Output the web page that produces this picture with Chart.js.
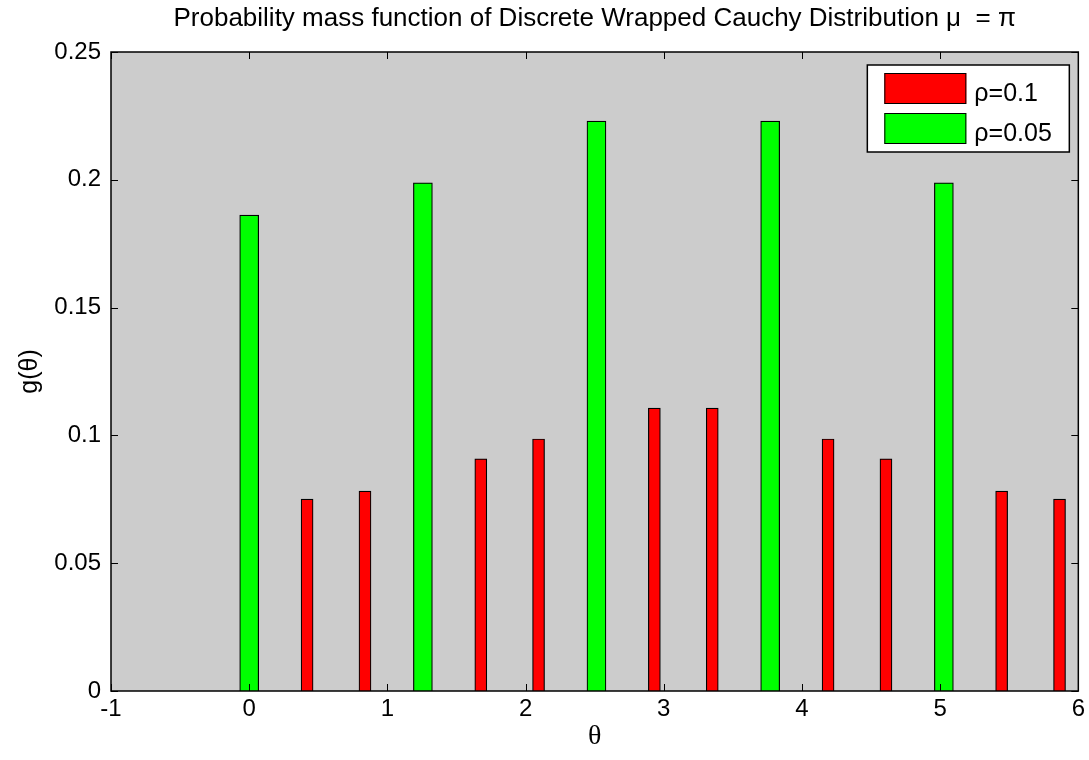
<!DOCTYPE html>
<html>
<head>
<meta charset="utf-8">
<script src="https://cdn.jsdelivr.net/npm/chart.js@4.4.1/dist/chart.umd.min.js"></script>
<style>
  body { margin: 0; background: #fff; }
  #wrap { width: 1089px; height: 760px; }
</style>
</head>
<body>
<div id="wrap"><canvas id="chart1" width="1089" height="760"></canvas></div>
<script>
// theta positions and pmf values
const thetaRed = [0.419, 0.838, 1.676, 2.094, 2.932, 3.351, 4.189, 4.608, 5.445, 5.864];
const pmfRed = [0.0751, 0.0782, 0.0908, 0.0986, 0.1107, 0.1107, 0.0986, 0.0908, 0.0782, 0.0751];
const thetaGreen = [0, 1.257, 2.513, 3.770, 5.027];
const pmfGreen = [0.1862, 0.1988, 0.2230, 0.2230, 0.1988];
const seriesNames = ['\u03c1=0.1', '\u03c1=0.05'];
const xTicks = [-1, 0, 1, 2, 3, 4, 5, 6];
const yTicks = [0, 0.05, 0.1, 0.15, 0.2, 0.25];
const chartTitle = 'Probability mass function of Discrete Wrapped Cauchy Distribution \u03bc  = \u03c0';

const sans = 'Liberation Sans, Arial, sans-serif';

function toPoints(xs, ys) {
  return xs.map(function (x, i) { return { x: x, y: ys[i] }; });
}

// grey axes background + title centred over the axes
const bgPlugin = {
  id: 'bg',
  beforeDraw: function (chart) {
    const a = chart.chartArea, ctx = chart.ctx;
    ctx.save();
    ctx.fillStyle = '#cccccc';
    ctx.fillRect(a.left, a.top, a.right - a.left, a.bottom - a.top);
    ctx.fillStyle = '#000';
    ctx.font = '26px ' + sans;
    ctx.textAlign = 'center';
    ctx.textBaseline = 'middle';
    ctx.fillText(chartTitle, (a.left + a.right) / 2, 19);
    ctx.restore();
  }
};

// box + inward ticks on all four sides, matlab style
const boxPlugin = {
  id: 'box',
  afterDatasetsDraw: function (chart) {
    const a = chart.chartArea, ctx = chart.ctx;
    const xs = chart.scales.x, ys = chart.scales.y;
    ctx.save();
    ctx.strokeStyle = '#000';
    ctx.lineWidth = 1;
    ctx.beginPath();
    xTicks.forEach(function (t) {
      const px = Math.round(xs.getPixelForValue(t)) + 0.5;
      ctx.moveTo(px, a.bottom); ctx.lineTo(px, a.bottom - 7);
      ctx.moveTo(px, a.top); ctx.lineTo(px, a.top + 7);
    });
    yTicks.forEach(function (t) {
      const py = Math.round(ys.getPixelForValue(t)) + 0.5;
      ctx.moveTo(a.left, py); ctx.lineTo(a.left + 7, py);
      ctx.moveTo(a.right, py); ctx.lineTo(a.right - 7, py);
    });
    ctx.stroke();
    ctx.lineWidth = 1.5;
    ctx.strokeRect(a.left, a.top, a.right - a.left, a.bottom - a.top);
    ctx.restore();
  }
};

// legend box in the upper right corner
const legendPlugin = {
  id: 'boxLegend',
  afterDraw: function (chart) {
    const a = chart.chartArea, ctx = chart.ctx;
    const bx = a.right - 211, by = a.top + 13, bw = 202, bh = 87;
    ctx.save();
    ctx.fillStyle = '#fff';
    ctx.fillRect(bx, by, bw, bh);
    ctx.strokeStyle = '#000';
    ctx.lineWidth = 1.5;
    ctx.strokeRect(bx, by, bw, bh);
    ctx.font = '25px ' + sans;
    ctx.textBaseline = 'middle';
    chart.data.datasets.forEach(function (ds, i) {
      const sy = by + 8 + i * 40;
      ctx.fillStyle = ds.backgroundColor;
      ctx.fillRect(bx + 17, sy, 82, 31);
      ctx.lineWidth = 1;
      ctx.strokeRect(bx + 17.5, sy + 0.5, 81, 30);
      ctx.fillStyle = '#000';
      ctx.fillText(ds.label, bx + 107, sy + 21);
    });
    ctx.restore();
  }
};

const data = {
  datasets: [{
    label: seriesNames[0],
    data: toPoints(thetaRed, pmfRed),
    backgroundColor: '#ff0000',
    borderColor: '#000000',
    borderWidth: 1.2,
    barThickness: 12,
    grouped: false
  }, {
    label: seriesNames[1],
    data: toPoints(thetaGreen, pmfGreen),
    backgroundColor: '#00ff00',
    borderColor: '#000000',
    borderWidth: 1.2,
    barThickness: 19,
    grouped: false
  }]
};

const config = {
  type: 'bar',
  data: data,
  plugins: [bgPlugin, boxPlugin, legendPlugin],
  options: {
    responsive: false,
    animation: false,
    layout: { padding: { left: 0, right: 8, top: 52, bottom: 0 } },
    plugins: {
      legend: { display: false },
      tooltip: { enabled: false },
      title: { display: false }
    },
    scales: {
      x: {
        type: 'linear',
        min: -1,
        max: 6,
        offset: false,
        grid: { display: false, drawTicks: false },
        border: { display: false },
        afterBuildTicks: function (s) { s.ticks = xTicks.map(function (v) { return { value: v }; }); },
        afterFit: function (s) { s.height = 69; },
        ticks: { color: '#000', font: { family: sans, size: 24 }, padding: 4, maxRotation: 0 },
        title: {
          display: true,
          text: '\u03b8',
          color: '#000',
          font: { family: 'Liberation Serif, Times New Roman, serif', size: 28 },
          padding: { top: 0, bottom: 7 }
        }
      },
      y: {
        min: 0,
        max: 0.25,
        grid: { display: false, drawTicks: false },
        border: { display: false },
        afterBuildTicks: function (s) { s.ticks = yTicks.map(function (v) { return { value: v }; }); },
        afterFit: function (s) { s.width = 111; },
        ticks: {
          color: '#000',
          font: { family: sans, size: 24 },
          padding: 10,
          callback: function (v) { return String(Number(v.toFixed(2))); }
        },
        title: {
          display: true,
          text: 'g(\u03b8)',
          color: '#000',
          font: { family: sans, size: 25 },
          padding: { top: 15, bottom: 0 }
        }
      }
    }
  }
};

const myChart = new Chart(document.getElementById('chart1'), config);
</script>
</body>
</html>
